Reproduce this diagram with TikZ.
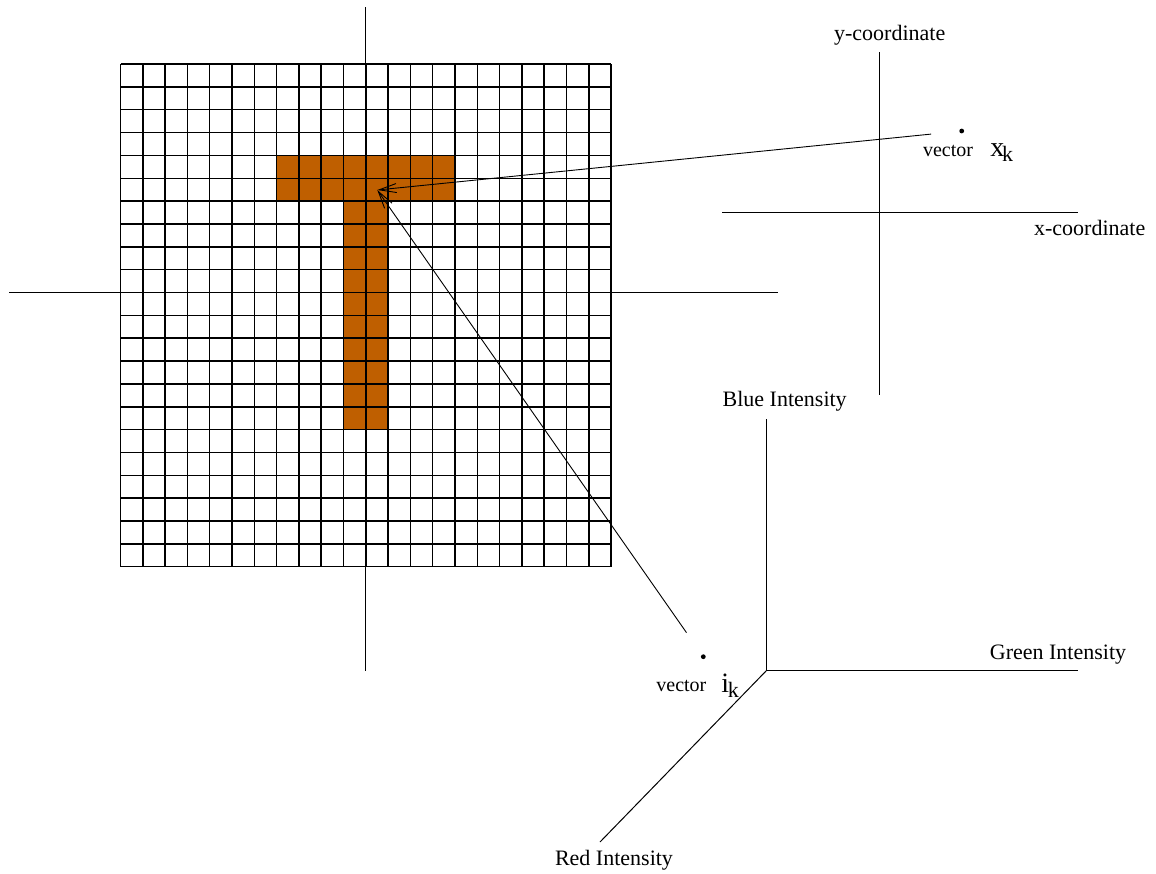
\documentclass[tikz,border=0pt]{standalone}
\usepackage{fontspec}
\setmainfont{Liberation Serif}
\usetikzlibrary{arrows.meta}
\definecolor{PixelOrange}{HTML}{BF5F00}

\begin{document}
\begin{tikzpicture}[x=0.5pt,y=-0.5pt,axis/.style={line width=0.5pt},gridline/.style={line width=0.75pt},lbl/.style={font=\fontsize{11}{13}\selectfont,inner sep=0pt,anchor=base},vlbl/.style={font=\fontsize{10}{12}\selectfont,inner sep=0pt,anchor=base west},sym/.style={font=\fontsize{14}{16}\selectfont,inner sep=0pt,anchor=base west},dot/.style={circle,fill,inner sep=0pt,minimum size=2.4pt},ptr/.style={-{Straight Barb[length=8.7pt,width=4.5pt]},line width=0.45pt}]
  \useasboundingbox (0,0) rectangle (1156,873);
  % image plane with the letter T
  \begin{scope}[shift={(120.5,64)},x=11.15pt,y=-11.425pt]
    \fill[PixelOrange] (7,4) rectangle (15,6);
    \fill[PixelOrange] (10,6) rectangle (12,16);
    \foreach \i in {0,...,22} {
      \draw[gridline] (\i,0) -- (\i,22);
      \draw[gridline] (0,\i) -- (22,\i);
    }
  \end{scope}
  \draw[axis] (9,292.6) -- (778,292.6);
  \draw[axis] (365.8,7) -- (365.8,671);
  \coordinate (pix) at (377.3,190);
  % spatial axes
  \draw[axis] (879,52) -- (879,395);
  \draw[axis] (722,212.3) -- (1078,212.3);
  \node[lbl] (ylbl) at (889.7,40) {y-coordinate};
  \node[lbl] (xlbl) at (1089.7,235) {x-coordinate};
  \node[dot] (xdot) at (961.7,131) {};
  \node[vlbl] (xvec) at (922.7,156) {vector};
  \node[sym] (xk) at (990,156.7) {x\kern-1.2pt\raisebox{-2.5pt}{\fontsize{11}{12}\selectfont k}};
  % colour axes
  \coordinate (rgb) at (766.5,670.5);
  \draw[axis] (rgb) -- (766.5,419);
  \draw[axis] (rgb) -- (1078,670.5);
  \draw[axis] (rgb) -- (600,842);
  \node[lbl] (blue) at (784.7,406.7) {Blue Intensity};
  \node[lbl] (green) at (1058,659.3) {Green Intensity};
  \node[lbl] (red) at (614,865) {Red Intensity};
  \node[dot] (idot) at (703.3,656.7) {};
  \node[vlbl] (ivec) at (656,691.7) {vector};
  \node[sym] (ik) at (721,692) {i\kern-0.6pt\raisebox{-2.5pt}{\fontsize{11}{12}\selectfont k}};
  \draw[ptr,shorten <=14pt] (xdot) -- (pix);
  \draw[ptr,shorten <=13.3pt] (idot) -- (pix);
\end{tikzpicture}
\end{document}
